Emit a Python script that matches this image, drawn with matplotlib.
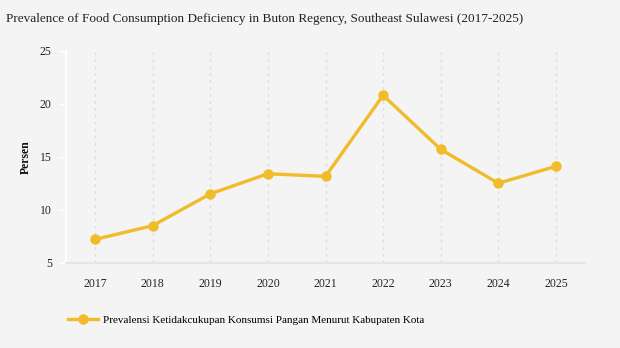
import matplotlib.pyplot as plt
from matplotlib.lines import Line2D

plt.rcParams['font.family'] = ['Liberation Serif', 'DejaVu Serif']

years = [2017, 2018, 2019, 2020, 2021, 2022, 2023, 2024, 2025]
persen = [7.2, 8.5, 11.5, 13.4, 13.15, 20.8, 15.7, 12.5, 14.1]
series_name = 'Prevalensi Ketidakcukupan Konsumsi Pangan Menurut Kabupaten Kota'
title = 'Prevalence of Food Consumption Deficiency in Buton Regency, Southeast Sulawesi (2017-2025)'

bg = '#f4f4f4'
gold = '#f0bc2a'

fig = plt.figure(figsize=(6.2, 3.48), dpi=100, facecolor=bg)
ax = fig.add_axes([0.106, 0.245, 0.838, 0.609], facecolor=bg)

ax.plot(years, persen, color=gold, lw=2.4, marker='o', ms=6.5, zorder=3)

ax.set_xlim(2016.49, 2025.51)
ax.set_ylim(5, 25)
ax.set_xticks(years)
ax.set_yticks([5, 10, 15, 20, 25])
ax.grid(axis='x', color='#dddddd', ls=(0, (2, 3)), lw=1)
ax.grid(axis='y', visible=False)

for s in ['top', 'right']:
    ax.spines[s].set_visible(False)
ax.spines['left'].set_color('white')
ax.spines['left'].set_linewidth(1.2)
ax.spines['bottom'].set_color('#e2e2e2')
ax.spines['bottom'].set_linewidth(1.2)

ax.tick_params(axis='y', colors='white', labelcolor='#222222', labelsize=8.5, length=6, width=1, pad=4)
ax.tick_params(axis='x', length=0, labelcolor='#222222', labelsize=8.5, pad=11)

ax.set_ylabel('Persen', fontsize=8.5, fontweight='bold', color='#111111')
ax.yaxis.set_label_coords(-0.066, 0.5)

fig.text(0.01, 0.945, title, fontsize=9.5, color='#222222', ha='left', va='center')

handle = Line2D([], [], color=gold, lw=2.4, marker='o', ms=6.5)
fig.legend([handle], [series_name], loc='center left', bbox_to_anchor=(0.093, 0.08),
           frameon=False, fontsize=8, handlelength=2.7, handletextpad=0.5)

fig.savefig('out.png', dpi=100, facecolor=bg)
